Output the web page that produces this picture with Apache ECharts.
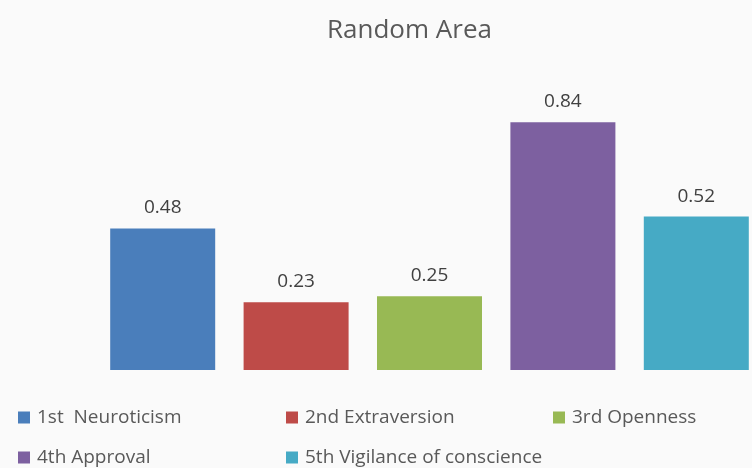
<!DOCTYPE html>
<html>
<head>
<meta charset="utf-8">
<script src="https://cdn.jsdelivr.net/npm/echarts@6/dist/echarts.min.js"></script>
<style>html,body{margin:0;padding:0;background:#fafafa;}#c{width:752px;height:468px;}</style>
</head>
<body>
<div id="c"></div>
<script>
const categories = ["1st  Neuroticism", "2nd Extraversion", "3rd Openness", "4th Approval", "5th Vigilance of conscience"];
const values = [0.48, 0.23, 0.25, 0.84, 0.52];
const colors = ["#4a7ebb", "#be4b48", "#98b954", "#7d60a0", "#46aac5"];
const legendPos = [[18, 408], [286, 408], [553, 408], [18, 448], [286, 448]];

const chart = echarts.init(document.getElementById('c'));
const series = categories.map((name, i) => ({
  name: name,
  type: 'bar',
  stack: 'all',
  barWidth: 105,
  itemStyle: { color: colors[i] },
  label: { show: true, position: 'top', distance: 11, color: '#404040', fontSize: 19, fontFamily: 'Open Sans', formatter: p => p.value.toFixed(2) },
  data: values.map((v, j) => j === i ? v : '-')
}));
const legends = categories.map((name, i) => ({
  data: [name],
  left: legendPos[i][0], top: legendPos[i][1],
  padding: 0,
  icon: 'rect', itemWidth: 12, itemHeight: 12, itemGap: 0,
  textStyle: { color: '#595959', fontSize: 19, fontFamily: 'Open Sans', padding: [0, 0, 0, 2] },
  selectedMode: false
}));
chart.setOption({
  backgroundColor: '#fafafa',
  animation: false,
  title: { text: 'Random Area', left: 327, top: 18, padding: 0, textStyle: { color: '#595959', fontSize: 26, fontWeight: 'normal', fontFamily: 'Open Sans' } },
  legend: legends,
  grid: { left: 96, width: 667, top: 75, bottom: 98, outerBoundsMode: 'none', containLabel: false },
  xAxis: { type: 'category', data: categories, show: false },
  yAxis: { type: 'value', min: 0, max: 1, show: false },
  series: series
});
</script>
</body>
</html>
